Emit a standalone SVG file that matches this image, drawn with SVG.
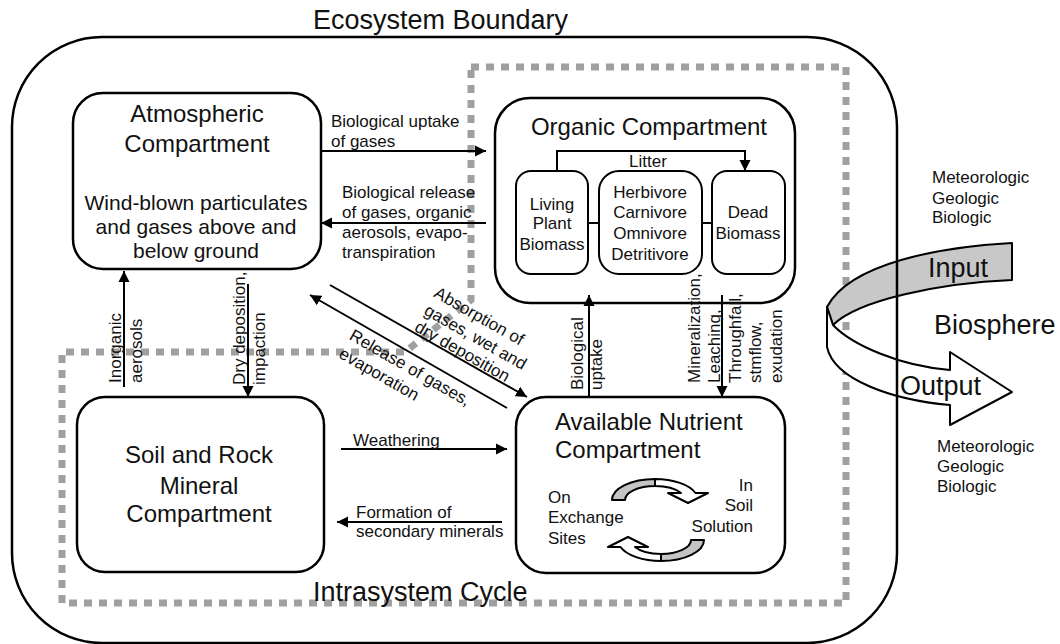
<svg xmlns="http://www.w3.org/2000/svg" width="1060" height="644" viewBox="0 0 1060 644">
<defs>
<marker id="ah" markerUnits="userSpaceOnUse" markerWidth="12" markerHeight="12" refX="11" refY="6" orient="auto">
<path d="M0,0.5 L11,6 L0,11.5 Z" fill="#000"/>
</marker>
<style>
text{font-family:"Liberation Sans",Arial,sans-serif;fill:#111}
.t24{font-size:24px}
.t21{font-size:21px}
.t17{font-size:17px}
.t27{font-size:27px}
.mid{text-anchor:middle}
.end{text-anchor:end}
.box{fill:#fff;stroke:#000;stroke-width:2.5}
.sub{fill:#fff;stroke:#000;stroke-width:2}
.ln{fill:none;stroke:#000;stroke-width:2}
.arr{fill:none;stroke:#000;stroke-width:2;marker-end:url(#ah)}
.dash{fill:none;stroke:#a0a0a0;stroke-width:7;stroke-dasharray:8 7}
.rib{stroke:#000;stroke-width:2;stroke-linejoin:round}
</style>
</defs>
<rect width="1060" height="644" fill="#fff"/>

<g id="intrasystem-cycle">
<path class="dash" d="M471,67 L846,67 L846,603 L62,603 L62,352 L405,352 L471,300 Z"/>
<text class="t27" x="313" y="601">Intrasystem Cycle</text>
</g>

<g id="biosphere">
<path class="rib" fill="#c8c8c8" d="M1012,243 C940,247 850,263 827,307 L833,325 C858,300 940,283 1012,280 Z"/>
<path class="rib" fill="#fff" d="M833,325 C852,345 900,366 950,370 L950,352 L1012,392 L950,425 L950,405 C893,400 834,380 827,347 L827,307 Z"/>
<text class="t27" x="928" y="277">Input</text>
<text class="t27" x="900" y="395">Output</text>
<text class="t27" x="934" y="334">Biosphere</text>
<text class="t17" x="932" y="183">Meteorologic</text>
<text class="t17" x="932" y="204">Geologic</text>
<text class="t17" x="932" y="223">Biologic</text>
<text class="t17" x="937" y="452">Meteorologic</text>
<text class="t17" x="937" y="472">Geologic</text>
<text class="t17" x="937" y="492">Biologic</text>
</g>

<g id="ecosystem-boundary">
<rect x="12" y="37" width="885" height="606" rx="90" ry="90" fill="none" stroke="#000" stroke-width="2.5"/>
<text class="t27" x="313" y="29">Ecosystem Boundary</text>
</g>

<g id="atmospheric">
<rect class="box" x="73" y="93" width="248" height="176" rx="30"/>
<text class="t24 mid" x="197" y="122">Atmospheric</text>
<text class="t24 mid" x="197" y="152">Compartment</text>
<text class="t21 mid" x="196" y="210">Wind-blown particulates</text>
<text class="t21 mid" x="196" y="234">and gases above and</text>
<text class="t21 mid" x="196" y="258">below ground</text>
</g>

<g id="organic">
<rect class="box" x="495" y="98" width="300" height="205" rx="35"/>
<text class="t24 mid" x="649" y="135">Organic Compartment</text>
</g>
<g id="living-plant">
<rect class="sub" x="516" y="171" width="72" height="103" rx="15"/>
<text class="t17 mid" x="552" y="210">Living</text>
<text class="t17 mid" x="552" y="229">Plant</text>
<text class="t17 mid" x="552" y="250">Biomass</text>
</g>
<g id="consumers">
<rect class="sub" x="599" y="171" width="103" height="103" rx="20"/>
<text class="t17 mid" x="650" y="198">Herbivore</text>
<text class="t17 mid" x="650" y="218">Carnivore</text>
<text class="t17 mid" x="650" y="239">Omnivore</text>
<text class="t17 mid" x="650" y="260">Detritivore</text>
</g>
<g id="dead-biomass">
<rect class="sub" x="712" y="171" width="73" height="103" rx="15"/>
<text class="t17 mid" x="748" y="218">Dead</text>
<text class="t17 mid" x="748" y="239">Biomass</text>
</g>

<g id="soil">
<rect class="box" x="77" y="397" width="247" height="175" rx="28"/>
<text class="t24 mid" x="199" y="463">Soil and Rock</text>
<text class="t24 mid" x="199" y="494">Mineral</text>
<text class="t24 mid" x="199" y="522">Compartment</text>
</g>

<g id="nutrient">
<rect class="box" x="516" y="397" width="269" height="176" rx="30"/>
<text class="t24" x="555" y="430">Available Nutrient</text>
<text class="t24" x="555" y="458">Compartment</text>
<text class="t17" x="548" y="503">On</text>
<text class="t17" x="548" y="523">Exchange</text>
<text class="t17" x="548" y="544">Sites</text>
<text class="t17 end" x="753" y="491">In</text>
<text class="t17 end" x="753" y="511">Soil</text>
<text class="t17 end" x="753" y="532">Solution</text>
<g id="exchange-cycle">
<path class="rib" stroke-width="1.5" fill="#c4c4c4" d="M612,500 A43,21 0 0 1 655,479 L655,486 A30,14 0 0 0 625,500 Z"/>
<path class="rib" stroke-width="1.5" fill="#fff" d="M655,479 A43,21 0 0 1 695.5,493 L708,493 L688,503 L668,493 L681,493 A30,14 0 0 0 655,486 Z"/>
<g transform="rotate(180 658 520)">
<path class="rib" stroke-width="1.5" fill="#c4c4c4" d="M612,500 A43,21 0 0 1 655,479 L655,486 A30,14 0 0 0 625,500 Z"/>
<path class="rib" stroke-width="1.5" fill="#fff" d="M655,479 A43,21 0 0 1 695.5,493 L708,493 L688,503 L668,493 L681,493 A30,14 0 0 0 655,486 Z"/>
</g>
</g>
</g>

<g id="connectors">
<line class="arr" x1="321" y1="151" x2="486" y2="151"/>
<line class="arr" x1="486" y1="223" x2="321" y2="223"/>
<path class="arr" d="M557,171 L557,151 L745,151 L745,171"/>
<line class="ln" x1="588" y1="223" x2="599" y2="223"/>
<line class="ln" x1="702" y1="223" x2="712" y2="223"/>
<line class="arr" x1="124" y1="387" x2="124" y2="271"/>
<line class="arr" x1="248" y1="284" x2="248" y2="397"/>
<line class="arr" x1="330" y1="285" x2="527" y2="397"/>
<line class="arr" x1="507" y1="408" x2="310" y2="295"/>
<line class="arr" x1="589" y1="397" x2="589" y2="295"/>
<line class="arr" x1="722" y1="295" x2="722" y2="397"/>
<line class="arr" x1="341" y1="449" x2="507" y2="449"/>
<line class="arr" x1="502" y1="522" x2="337" y2="522"/>

<text class="t17" x="331" y="127">Biological uptake</text>
<text class="t17" x="331" y="147">of gases</text>
<text class="t17" x="342" y="198">Biological release</text>
<text class="t17" x="342" y="218">of gases, organic</text>
<text class="t17" x="342" y="238">aerosols, evapo-</text>
<text class="t17" x="342" y="258">transpiration</text>
<text class="t17 mid" x="648" y="167">Litter</text>

<text class="t17" transform="translate(121,383) rotate(-90)">Inorganic</text>
<text class="t17" transform="translate(142,383) rotate(-90)">aerosols</text>
<text class="t17" transform="translate(245,385) rotate(-90)">Dry deposition,</text>
<text class="t17" transform="translate(265,385) rotate(-90)">impaction</text>

<text class="t17" transform="translate(583,390) rotate(-90)">Biological</text>
<text class="t17" transform="translate(602,390) rotate(-90)">uptake</text>
<text class="t17" transform="translate(700,383) rotate(-90)">Mineralization,</text>
<text class="t17" transform="translate(720,383) rotate(-90)">Leaching,</text>
<text class="t17" transform="translate(741,383) rotate(-90)">Throughfall,</text>
<text class="t17" transform="translate(761,383) rotate(-90)">stmflow,</text>
<text class="t17" transform="translate(782,383) rotate(-90)">exudation</text>

<g transform="translate(330,285) rotate(29.6)">
<text class="t17" x="95" y="-41">Absorption of</text>
<text class="t17" x="95" y="-21">gases, wet and</text>
<text class="t17" x="95" y="-2">dry deposition</text>
</g>
<g transform="translate(310,295) rotate(29.8)">
<text class="t17" x="55" y="19">Release of gases,</text>
<text class="t17" x="55" y="40">evaporation</text>
</g>

<text class="t17" x="353" y="446">Weathering</text>
<text class="t17" x="356" y="518">Formation of</text>
<text class="t17" x="356" y="537">secondary minerals</text>
</g>
</svg>
